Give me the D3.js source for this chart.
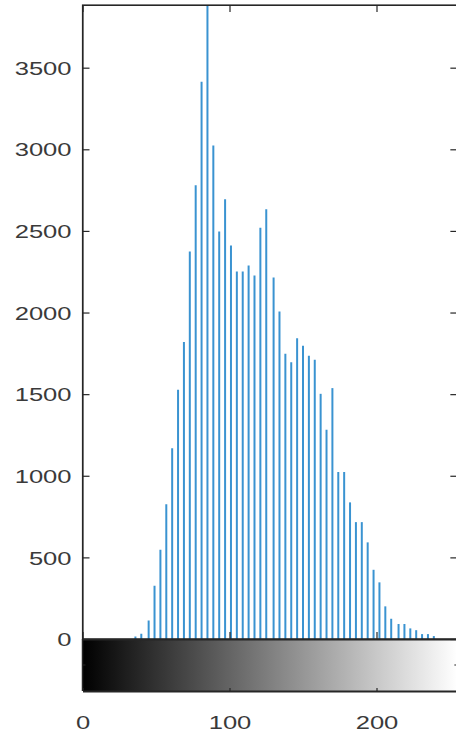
<!DOCTYPE html>
<html>
<head>
<meta charset="utf-8">
<script src="https://cdn.jsdelivr.net/npm/d3@7"></script>
<style>
  html, body { margin: 0; padding: 0; background: #fff; }
  svg { display: block; }
  text { font-family: "Liberation Sans", Arial, Helvetica, sans-serif; }
</style>
</head>
<body>
<script>
// Gray levels present in the image (x positions of stems)
const levels = [36,40,45,49,53,57,61,65,69,73,77,81,85,89,93,97,101,105,109,113,117,121,125,130,134,138,142,146,150,154,158,162,166,170,174,178,182,186,190,194,198,202,206,210,215,219,223,227,231,235,239];
// Pixel counts per gray level
const counts = [16,32,114,326,547,826,1169,1527,1819,2374,2780,3414,3884,3023,2496,2694,2410,2251,2251,2288,2227,2520,2633,2214,2006,1747,1696,1843,1796,1735,1710,1502,1282,1537,1023,1023,837,716,716,592,424,347,200,124,92,92,65,54,30,30,18];
const yTicks = [0,500,1000,1500,2000,2500,3000,3500];
const xTicks = [0,100,200];
const xDomain = [0,255];
const yMax = 3884;

(function () {
const W = 456, H = 739;
const mLeft = 82.5, mTop = 5, base = 639, cbBottom = 691;
const pxPerUnit = 1.47;
const stretch = 1.46;        // horizontal text stretch of the original
const fontSize = 17.5;
const axisColor = "#262626";

const svg = d3.select("body").append("svg").attr("width", W).attr("height", H);
svg.append("rect").attr("width", W).attr("height", H).attr("fill", "#fff");

const x = d3.scaleLinear().domain(xDomain).range([mLeft, mLeft + 255 * pxPerUnit]);
const y = d3.scaleLinear().domain([0, yMax]).range([base, mTop]);
const mRight = x(255);

const defs = svg.append("defs");
defs.append("clipPath").attr("id", "plotclip")
  .append("rect").attr("x", mLeft).attr("y", mTop).attr("width", mRight - mLeft).attr("height", base - mTop);
const grad = defs.append("linearGradient").attr("id", "grayGrad")
  .attr("gradientUnits", "userSpaceOnUse")
  .attr("x1", x(0)).attr("x2", x(255)).attr("y1", 0).attr("y2", 0);
grad.append("stop").attr("offset", "0%").attr("stop-color", "#000");
grad.append("stop").attr("offset", "100%").attr("stop-color", "#fff");

// Stems
svg.append("g").attr("clip-path", "url(#plotclip)")
  .selectAll("line").data(levels).join("line")
  .attr("x1", d => x(d)).attr("x2", d => x(d))
  .attr("y1", y(0)).attr("y2", (d, i) => y(counts[i]))
  .attr("stroke", "#3a93d1").attr("stroke-width", 2);

// Colorbar
svg.append("rect").attr("x", mLeft).attr("y", base).attr("width", mRight - mLeft).attr("height", cbBottom - base)
  .attr("fill", "url(#grayGrad)");

// Main axes box
svg.append("rect").attr("x", mLeft).attr("y", mTop).attr("width", mRight - mLeft).attr("height", base - mTop)
  .attr("fill", "none").attr("stroke", axisColor).attr("stroke-width", 1.2);

function styleAxis(g) {
  g.selectAll("path.domain").attr("stroke", axisColor).attr("stroke-width", 1.2);
  g.selectAll(".tick line").attr("stroke", axisColor).attr("stroke-width", 1.2);
  g.selectAll(".tick text").attr("fill", "#3a3a3a").attr("font-size", fontSize);
}

// Left axis
const gl = svg.append("g").attr("transform", `translate(${mLeft},0)`)
  .call(d3.axisLeft(y).tickValues(yTicks).tickSizeInner(-7).tickSizeOuter(0).tickFormat(d3.format("d")));
styleAxis(gl);
gl.selectAll(".tick text").attr("x", -11 / stretch).attr("dy", "0.38em")
  .attr("transform", `scale(${stretch},1)`);

// Right axis (ticks only)
const gr = svg.append("g").attr("transform", `translate(${mRight},0)`)
  .call(d3.axisRight(y).tickValues(yTicks).tickSizeInner(-7).tickSizeOuter(0).tickFormat(""));
styleAxis(gr);

// Top axis (ticks only)
const gt = svg.append("g").attr("transform", `translate(0,${mTop})`)
  .call(d3.axisTop(x).tickValues(xTicks).tickSizeInner(-7).tickSizeOuter(0).tickFormat(""));
styleAxis(gt);

// Bottom of main axes (ticks only)
const gb = svg.append("g").attr("transform", `translate(0,${base})`)
  .call(d3.axisBottom(x).tickValues(xTicks).tickSizeInner(-7).tickSizeOuter(0).tickFormat(""));
styleAxis(gb);
gb.selectAll("path.domain").attr("stroke-width", 2);

// Colorbar axes: bottom with labels
const gc = svg.append("g").attr("transform", `translate(0,${cbBottom})`)
  .call(d3.axisBottom(x).tickValues(xTicks).tickSizeInner(-3).tickSizeOuter(0).tickFormat(d3.format("d")));
styleAxis(gc);
gc.selectAll("path.domain").attr("stroke-width", 2);
gc.selectAll(".tick text").attr("y", 38).attr("dy", 0)
  .attr("transform", `scale(${stretch},1)`);

// Colorbar side borders with small ticks
svg.append("line").attr("x1", mLeft).attr("x2", mLeft).attr("y1", base).attr("y2", cbBottom)
  .attr("stroke", axisColor).attr("stroke-width", 1.5);
svg.append("line").attr("x1", mLeft).attr("x2", mLeft + 3).attr("y1", (base + cbBottom) / 2).attr("y2", (base + cbBottom) / 2)
  .attr("stroke", axisColor).attr("stroke-width", 1);
svg.append("line").attr("x1", mRight).attr("x2", mRight - 3).attr("y1", (base + cbBottom) / 2).attr("y2", (base + cbBottom) / 2)
  .attr("stroke", axisColor).attr("stroke-width", 1);
})();
</script>
</body>
</html>
